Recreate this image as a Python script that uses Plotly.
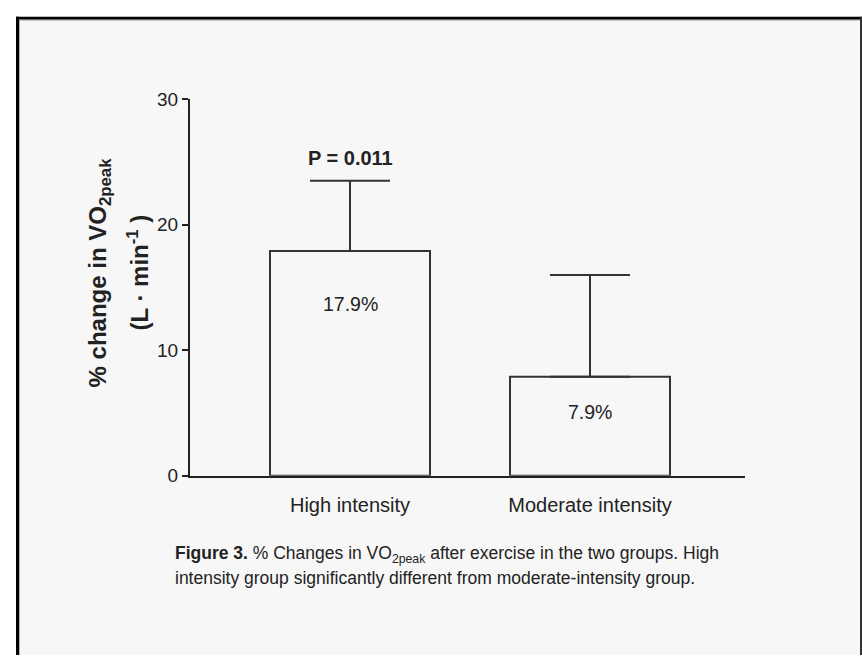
import plotly.graph_objects as go

# ---- data ----
categories = ["High intensity", "Moderate intensity"]
values = [17.9, 7.9]
err_plus = [5.6, 8.1]
value_labels = ["17.9%", "7.9%"]
p_label = "P = 0.011"
y_ticks = [0, 10, 20, 30]

W, H = 862, 666
def px(x):
    return x / W
def py(y):
    return 1 - y / H

BG = "#f7f7f7"
INK = "#222222"
FONT = "Arial, Liberation Sans, sans-serif"

fig = go.Figure()
fig.add_trace(go.Bar(
    x=categories, y=values, width=0.6667,
    marker=dict(color=BG, line=dict(color="#333333", width=2)),
    error_y=dict(type="data", symmetric=False, array=err_plus,
                 arrayminus=[0, 0], color="#333333", thickness=2, width=40),
    showlegend=False, hoverinfo="skip",
))

annotations = []
# value labels inside bars
label_y = [13.7, 5.1]
for c, t, ly in zip(categories, value_labels, label_y):
    annotations.append(dict(x=c, y=ly, xref="x", yref="y", text=t, showarrow=False,
                            font=dict(family=FONT, size=19.5, color=INK)))
# p-value label above first error bar
annotations.append(dict(x=categories[0], y=values[0] + err_plus[0] + 1.8, xref="x", yref="y",
                        text="<b>" + p_label + "</b>", showarrow=False,
                        font=dict(family=FONT, size=20, color=INK)))
# y-axis title (two lines)
annotations.append(dict(x=px(99), y=py(271), xref="paper", yref="paper", textangle=-90,
                        text="<b>% change in VO<sub>2peak</sub></b>", showarrow=False,
                        xanchor="center", yanchor="middle",
                        font=dict(family=FONT, size=24, color=INK)))
annotations.append(dict(x=px(138), y=py(271), xref="paper", yref="paper", textangle=-90,
                        text="<b>(L · min<sup>-1</sup> )</b>", showarrow=False,
                        xanchor="center", yanchor="middle",
                        font=dict(family=FONT, size=24, color=INK)))
# caption
annotations.append(dict(x=px(173), y=py(562), xref="paper", yref="paper",
                        text="<b>Figure 3.</b> % Changes in VO<sub>2peak</sub> after exercise in the two groups. High",
                        showarrow=False, xanchor="left", yanchor="middle",
                        font=dict(family=FONT, size=17.5, color=INK)))
annotations.append(dict(x=px(173), y=py(587), xref="paper", yref="paper",
                        text="intensity group significantly different from moderate-intensity group.",
                        showarrow=False, xanchor="left", yanchor="middle",
                        font=dict(family=FONT, size=17.5, color=INK)))

shapes = [
    # panel background
    dict(type="rect", xref="paper", yref="paper", x0=px(16), x1=px(862), y0=py(666), y1=py(7),
         fillcolor=BG, line=dict(width=0), layer="below"),
    # top & left black border
    dict(type="line", xref="paper", yref="paper", x0=px(16), x1=px(862), y0=py(8.5), y1=py(8.5),
         line=dict(color="black", width=3), layer="below"),
    dict(type="line", xref="paper", yref="paper", x0=px(17.5), x1=px(17.5), y0=py(7), y1=py(666),
         line=dict(color="black", width=3), layer="below"),
    # inner bevel
    dict(type="line", xref="paper", yref="paper", x0=px(19), x1=px(860), y0=py(10.5), y1=py(10.5),
         line=dict(color="#b0b0b0", width=1), layer="below"),
    dict(type="line", xref="paper", yref="paper", x0=px(19.5), x1=px(19.5), y0=py(10), y1=py(666),
         line=dict(color="#b0b0b0", width=1), layer="below"),
    # right border
    dict(type="line", xref="paper", yref="paper", x0=px(861), x1=px(861), y0=py(7), y1=py(666),
         line=dict(color="#333333", width=2), layer="below"),
]

fig.update_layout(
    width=W, height=H,
    margin=dict(l=0, r=0, t=0, b=0),
    paper_bgcolor="white",
    plot_bgcolor="rgba(0,0,0,0)",
    annotations=annotations,
    shapes=shapes,
    xaxis=dict(domain=[px(190), px(745)], range=[-0.6667, 1.6458],
               showline=True, linecolor=INK, linewidth=2, ticks="", showgrid=False,
               zeroline=False, tickfont=dict(family=FONT, size=20, color=INK),
               ticklabelstandoff=10, fixedrange=True),
    yaxis=dict(domain=[py(481), py(92)], range=[0, 30], tickvals=y_ticks,
               showline=True, linecolor=INK, linewidth=2, ticks="outside", ticklen=6,
               tickwidth=1.5, tickcolor=INK, showgrid=False, zeroline=False,
               tickfont=dict(family=FONT, size=19, color=INK), fixedrange=True),
)

fig.write_html("out.html", config={"displayModeBar": False},
               post_script="document.body.style.margin='0';document.body.style.overflow='hidden';")
